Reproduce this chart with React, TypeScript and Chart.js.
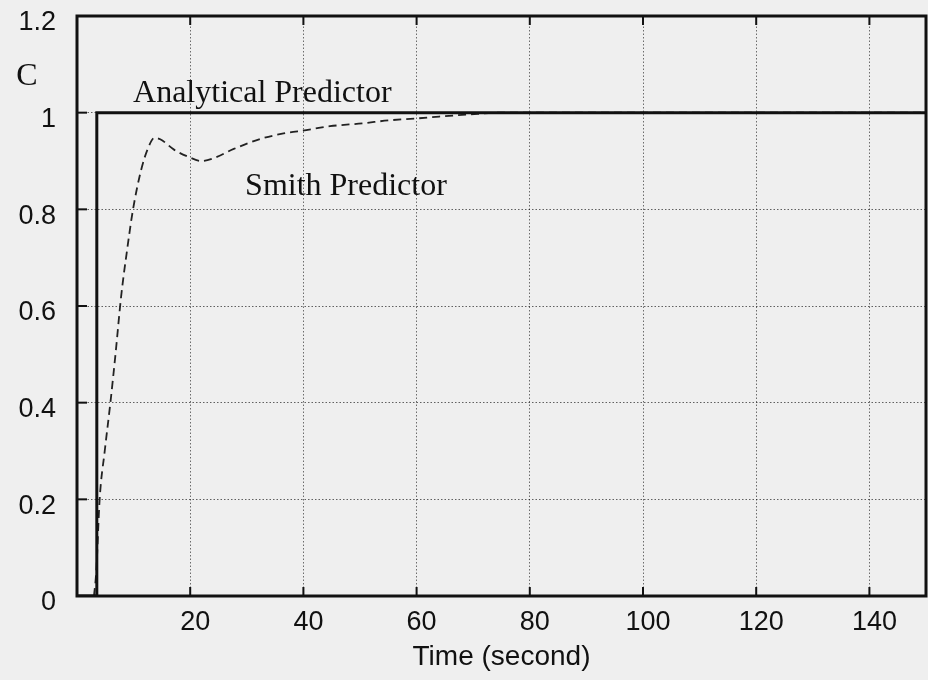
import { useEffect, useRef } from 'react';
import { Chart, registerables } from 'chart.js';

Chart.register(...registerables);

// ---- data ----
const xTickValues = [20, 40, 60, 80, 100, 120, 140];
const yTickValues = [0, 0.2, 0.4, 0.6, 0.8, 1, 1.2];

const analyticalTime = [0, 3.5, 3.5, 150];
const analyticalC = [0, 0, 1, 1];

const smithTime = [3, 3.4, 4, 4.9, 5.9, 6.8, 7.8, 8.9, 9.9, 11.3, 12.5, 13.7, 14.7, 17.2, 19.6, 22, 24.2, 27.7, 32.5, 36.5, 40.5, 44.7, 50.5, 55, 60, 64, 69, 75, 150];
const smithC = [0, 0.05, 0.2, 0.3, 0.4, 0.5, 0.62, 0.72, 0.8, 0.88, 0.925, 0.948, 0.945, 0.923, 0.909, 0.9, 0.906, 0.925, 0.946, 0.957, 0.964, 0.972, 0.978, 0.984, 0.988, 0.992, 0.996, 1, 1];

const annotationTexts = ['Analytical Predictor', 'Smith Predictor'];
const annotationX = [9.9, 29.7];
const annotationY = [1.022, 0.83];

const yAxisTitle = 'C';
const yAxisTitleLevel = 1.057;
const xAxisTitle = 'Time (second)';

const INK = '#111111';

const framePlugin = {
  id: 'framePlugin',
  beforeDraw(chart: any) {
    const { ctx, width, height } = chart;
    ctx.save();
    ctx.fillStyle = '#efefef';
    ctx.fillRect(0, 0, width, height);
    ctx.restore();
  },
  afterDatasetsDraw(chart: any) {
    const { ctx, chartArea: a, scales } = chart;
    const xs = scales.x;
    const ys = scales.y;
    ctx.save();
    ctx.strokeStyle = INK;
    ctx.lineWidth = 2;
    ctx.setLineDash([]);
    xTickValues.forEach((v) => {
      const px = xs.getPixelForValue(v);
      ctx.beginPath();
      ctx.moveTo(px, a.bottom);
      ctx.lineTo(px, a.bottom - 9);
      ctx.moveTo(px, a.top);
      ctx.lineTo(px, a.top + 9);
      ctx.stroke();
    });
    yTickValues.forEach((v) => {
      const py = ys.getPixelForValue(v);
      ctx.beginPath();
      ctx.moveTo(a.left, py);
      ctx.lineTo(a.left + 10, py);
      ctx.stroke();
    });
    ctx.lineWidth = 3;
    ctx.strokeRect(a.left, a.top, a.right - a.left, a.bottom - a.top);

    ctx.fillStyle = INK;
    ctx.font = '32px "Liberation Serif"';
    ctx.textBaseline = 'alphabetic';
    ctx.textAlign = 'left';
    annotationTexts.forEach((t, i) => {
      ctx.fillText(t, xs.getPixelForValue(annotationX[i]), ys.getPixelForValue(annotationY[i]));
    });
    ctx.textAlign = 'center';
    ctx.fillText(yAxisTitle, a.left - 50, ys.getPixelForValue(yAxisTitleLevel));
    ctx.restore();
  },
};

export default function App() {
  const canvasRef = useRef<HTMLCanvasElement | null>(null);

  useEffect(() => {
    if (!canvasRef.current) return;
    const chart = new Chart(canvasRef.current, {
      type: 'line',
      data: {
        datasets: [
          {
            label: 'Analytical Predictor',
            data: analyticalTime.map((t, i) => ({ x: t, y: analyticalC[i] })),
            borderColor: INK,
            borderWidth: 3,
            pointRadius: 0,
            tension: 0,
            fill: false,
          },
          {
            label: 'Smith Predictor',
            data: smithTime.map((t, i) => ({ x: t, y: smithC[i] })),
            borderColor: '#222222',
            borderWidth: 1.8,
            borderDash: [8, 5],
            pointRadius: 0,
            cubicInterpolationMode: 'monotone',
            fill: false,
          },
        ],
      },
      options: {
        responsive: false,
        animation: false,
        layout: { padding: { top: 16, right: 2, left: 0, bottom: 0 } },
        plugins: {
          legend: { display: false },
          tooltip: { enabled: false },
        },
        scales: {
          x: {
            type: 'linear',
            min: 0,
            max: 150,
            afterBuildTicks: (s: any) => {
              s.ticks = xTickValues.map((v) => ({ value: v }));
            },
            afterFit: (s: any) => {
              s.height = 84;
              s.paddingLeft = 0;
              s.paddingRight = 0;
              s.paddingTop = 0;
              s.paddingBottom = 0;
            },
            grid: { color: 'rgba(0,0,0,0.55)', lineWidth: 1, drawTicks: false },
            border: { display: false, dash: [1.5, 2] },
            ticks: {
              color: INK,
              padding: 10,
              labelOffset: 5,
              maxRotation: 0,
              font: { family: '"Liberation Sans"', size: 27 },
              callback: (v: any) => String(v),
            },
            title: {
              display: true,
              text: xAxisTitle,
              color: INK,
              font: { family: '"Liberation Sans"', size: 28 },
              padding: { top: 0, bottom: 6 },
            },
          },
          y: {
            type: 'linear',
            min: 0,
            max: 1.2,
            afterBuildTicks: (s: any) => {
              s.ticks = yTickValues.map((v) => ({ value: v }));
            },
            afterFit: (s: any) => {
              s.width = 77;
              s.paddingLeft = 0;
              s.paddingRight = 0;
              s.paddingTop = 0;
              s.paddingBottom = 0;
            },
            grid: { color: 'rgba(0,0,0,0.6)', lineWidth: 1, drawTicks: false },
            border: { display: false, dash: [1.5, 2] },
            ticks: {
              color: INK,
              padding: 21,
              labelOffset: 7,
              font: { family: '"Liberation Sans"', size: 27 },
              callback: (v: any) => String(v),
            },
          },
        },
      },
      plugins: [framePlugin],
    } as any);
    return () => chart.destroy();
  }, []);

  return (
    <div style={{ position: 'absolute', left: 0, top: 0, width: 928, height: 680 }}>
      <canvas ref={canvasRef} width={928} height={680} style={{ display: 'block' }} />
    </div>
  );
}
